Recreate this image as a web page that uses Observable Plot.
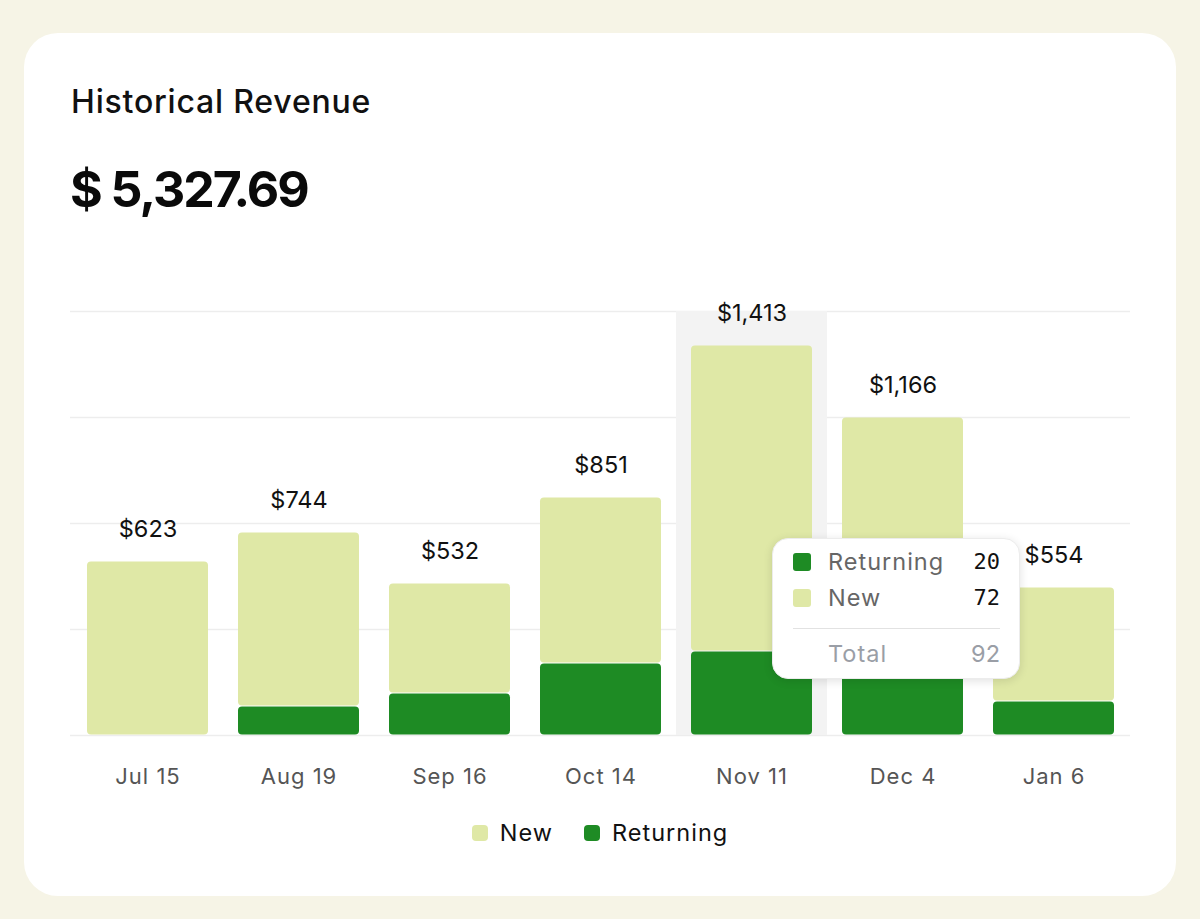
<!DOCTYPE html>
<html>
<head>
<meta charset="utf-8">
<script src="https://cdn.jsdelivr.net/npm/d3@7"></script>
<script src="https://cdn.jsdelivr.net/npm/@observablehq/plot@0.6"></script>
<style>
  html, body { margin: 0; padding: 0; }
  body { width: 1200px; height: 919px; background: #f6f4e6; position: relative; overflow: hidden; font-family: Inter, "Noto Sans", sans-serif; }
  #card { position: absolute; left: 24px; top: 33px; width: 1152px; height: 863px; background: #ffffff; border-radius: 34px; }
  #title { position: absolute; left: 71px; top: 86px; line-height: 1; font-size: 32px; font-weight: 500; color: #111; letter-spacing: 0.8px; }
  #total { position: absolute; left: 70px; top: 164px; line-height: 1; font-size: 50px; font-weight: 700; color: #0a0a0a; letter-spacing: -2px; }
  #chart { position: absolute; left: 0; top: 280px; }
  #legend { position: absolute; left: 0; width: 1200px; top: 818px; display: flex; justify-content: center; gap: 31px; font-size: 23.5px; color: #111; letter-spacing: 1px; }
  #legend .item { display: flex; align-items: center; gap: 12px; }
  #legend .sw { width: 16px; height: 16px; border-radius: 4px; display: inline-block; }
  #tip { position: absolute; background: #fff; border-radius: 16px; box-shadow: 0 2px 10px rgba(0,0,0,0.12); border: 1px solid #ececec; box-sizing: border-box; padding: 5px 19px 0 20px; }
  #tip .row { display: flex; align-items: center; height: 36px; font-size: 23.5px; }
  #tip .sw { width: 18px; height: 18px; border-radius: 3px; margin-right: 17px; }
  #tip .lab { color: #666; flex: 1; letter-spacing: 1px; }
  #tip .val { font-family: "DejaVu Sans Mono", monospace; color: #111; font-size: 22px; }
  #tip hr { border: none; border-top: 1.5px solid #e2e2e2; margin: 12px 0 7px 0; }
  #tip .tot .lab { color: #9a9ea6; padding-left: 35px; }
  #tip .tot .val { color: #9a9ea6; font-family: Inter, sans-serif; font-size: 23.5px; }
</style>
</head>
<body>
<div id="card"></div>
<div id="title">Historical Revenue</div>
<div id="total">$ 5,327.69</div>
<div id="chart"></div>
<div id="legend"></div>
<div id="tip"></div>
<script>
const dates = ["Jul 15", "Aug 19", "Sep 16", "Oct 14", "Nov 11", "Dec 4", "Jan 6"];
const totals = [623, 744, 532, 851, 1413, 1166, 554];
const returningVals = [0, 105, 152, 261, 304, 330, 123];
const newVals = [630, 630, 399, 601, 1109, 822, 413];
const series = ["New", "Returning"];
const seriesColors = ["#dfe8a6", "#1e8b24"];
const yTicks = [0, 384, 768, 1152, 1536];
const highlighted = "Nov 11";
const tipRows = [
  {label: "Returning", value: 20},
  {label: "New", value: 72}
];
const tipTotal = {label: "Total", value: 92};

const rows = [];
dates.forEach((d, i) => {
  rows.push({date: d, series: "Returning", value: returningVals[i]});
  rows.push({date: d, series: "New", value: newVals[i]});
});
const totalRows = dates.map((d, i) => ({date: d, total: totals[i], top: returningVals[i] + newVals[i]}));

const fmt = d3.format(",");

const plot = Plot.plot({
  width: 1200,
  height: 520,
  marginLeft: 70,
  marginRight: 70,
  marginTop: 31,
  marginBottom: 65,
  style: {background: "transparent", fontFamily: "Inter, sans-serif", overflow: "visible"},
  x: {domain: dates, paddingInner: 0.2, paddingOuter: 0.1, label: null},
  y: {domain: [0, 1536], axis: null},
  color: {domain: series, range: seriesColors},
  marks: [
    Plot.ruleY(yTicks, {stroke: "#ededed", strokeWidth: 1.5}),
    Plot.barY([highlighted], {x: d => d, y1: 0, y2: 1536, fill: "#f3f3f3", insetLeft: -15, insetRight: -15}),
    Plot.barY(rows, Plot.stackY({order: ["Returning", "New"]}, {x: "date", y: "value", fill: "series", rx: 4, insetTop: 0.5, insetBottom: 0.5})),
    Plot.text(totalRows, {x: "date", y: "top", text: d => "$" + fmt(d.total), dy: -32, fontSize: 23.5, fill: "#111", fontFamily: "Inter, sans-serif", style: "letter-spacing:0.6px"}),
    Plot.axisX({tickSize: 0, tickPadding: 33, fontSize: 22, fill: "#555", label: null, fontFamily: "Inter, sans-serif"})
  ]
});
plot.querySelectorAll("g[aria-label='x-axis tick label'] text").forEach(t => t.style.letterSpacing = "1px");
document.getElementById("chart").appendChild(plot);

// legend
const legend = document.getElementById("legend");
series.forEach((s, i) => {
  const it = document.createElement("div");
  it.className = "item";
  it.innerHTML = `<span class="sw" style="background:${seriesColors[i]}"></span><span>${s}</span>`;
  legend.appendChild(it);
});

// tooltip anchored on highlighted bar
const xs = plot.scale("x");
const ys = plot.scale("y");
const chartTop = 280;
const barRight = xs.apply(highlighted) + xs.bandwidth;
const tip = document.getElementById("tip");
tip.style.left = (barRight - 40) + "px";
tip.style.top = (chartTop + ys.apply(714)) + "px";
tip.style.width = "248px";
tip.style.height = "141px";
const colorOf = s => seriesColors[series.indexOf(s)];
tip.innerHTML = tipRows.map(r => `<div class="row"><span class="sw" style="background:${colorOf(r.label)}"></span><span class="lab">${r.label}</span><span class="val">${r.value}</span></div>`).join("")
  + `<hr><div class="row tot"><span class="lab">${tipTotal.label}</span><span class="val">${tipTotal.value}</span></div>`;
</script>
</body>
</html>
